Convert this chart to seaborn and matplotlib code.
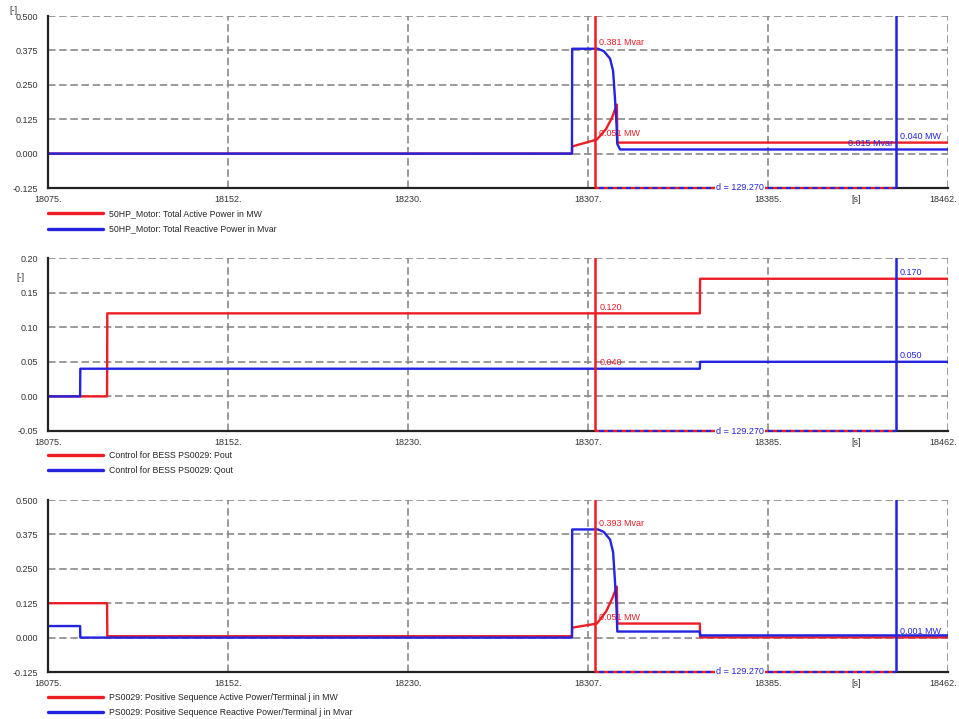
import numpy as np
import pandas as pd
import matplotlib
matplotlib.use('Agg')
import matplotlib.pyplot as plt
import matplotlib.transforms as mtransforms
import seaborn as sns
from matplotlib.lines import Line2D
from matplotlib.ticker import FixedLocator

# --- Configuration ---
RED = '#ee1c24'
BLUE = '#2323e0'
GRID = '#8a8a8a'
OUT_FILE = 'out.png'

X_MIN, X_MAX = 18075, 18462
X_TICKS = [18075, 18152.4, 18229.8, 18307.2, 18384.6, 18462]
X_TICK_LABELS = ['18075.', '18152.', '18230.', '18307.', '18385.', '18462.']
CURSOR_RED = 18310.3
CURSOR_BLUE = 18439.57
DELTA_LABEL = 'd = 129.270'

# --- Panel 1: 50HP motor ---
p1_active_t = [18075, 18300.3, 18300.4, 18311.0, 18315.0, 18317.5, 18319.6, 18319.8, 18462]
p1_active_v = [0.0, 0.0, 0.026, 0.051, 0.090, 0.130, 0.178, 0.040, 0.040]
p1_reactive_t = [18075, 18300.3, 18300.4, 18311.5, 18314.0, 18316.7, 18318.0, 18318.8, 18319.5, 18319.8, 18321.0, 18462]
p1_reactive_v = [0.0, 0.0, 0.381, 0.381, 0.372, 0.345, 0.300, 0.200, 0.100, 0.035, 0.015, 0.015]
p1_labels = ['50HP_Motor: Total Active Power in MW', '50HP_Motor: Total Reactive Power in Mvar']
p1_yticks = [0.500, 0.375, 0.250, 0.125, 0.000, -0.125]
p1_yticklabels = ['0.500', '0.375', '0.250', '0.125', '0.000', '-0.125']

# --- Panel 2: BESS control ---
p2_pout_t = [18075, 18100.4, 18100.5, 18355.3, 18355.4, 18462]
p2_pout_v = [0.0, 0.0, 0.120, 0.120, 0.170, 0.170]
p2_qout_t = [18075, 18088.8, 18088.9, 18355.3, 18355.4, 18462]
p2_qout_v = [0.0, 0.0, 0.040, 0.040, 0.050, 0.050]
p2_labels = ['Control for BESS PS0029: Pout', 'Control for BESS PS0029: Qout']
p2_yticks = [0.20, 0.15, 0.10, 0.05, 0.00, -0.05]
p2_yticklabels = ['0.20', '0.15', '0.10', '0.05', '0.00', '-0.05']

# --- Panel 3: PS0029 terminal ---
p3_active_t = [18075, 18100.4, 18100.5, 18300.3, 18300.4, 18311.0, 18315.0, 18317.5, 18319.6, 18319.8, 18355.3, 18355.4, 18462]
p3_active_v = [0.125, 0.125, 0.005, 0.005, 0.036, 0.051, 0.095, 0.140, 0.185, 0.051, 0.051, 0.001, 0.001]
p3_reactive_t = [18075, 18088.8, 18088.9, 18300.3, 18300.4, 18311.5, 18314.0, 18316.7, 18318.0, 18318.8, 18319.5, 18319.8, 18355.3, 18355.4, 18462]
p3_reactive_v = [0.042, 0.042, 0.0, 0.0, 0.393, 0.393, 0.384, 0.356, 0.310, 0.205, 0.100, 0.022, 0.022, 0.008, 0.008]
p3_labels = ['PS0029: Positive Sequence Active Power/Terminal j in MW',
             'PS0029: Positive Sequence Reactive Power/Terminal j in Mvar']
p3_yticks = p1_yticks
p3_yticklabels = p1_yticklabels

# cursor readouts: (text, value, cursor colour, side)
p1_readouts = [('0.381 Mvar', 0.381, 'red', 'right'), ('0.051 MW', 0.051, 'red', 'right'),
               ('0.015 Mvar', 0.015, 'blue', 'left'), ('0.040 MW', 0.040, 'blue', 'right')]
p2_readouts = [('0.120', 0.120, 'red', 'right'), ('0.040', 0.040, 'red', 'right'),
               ('0.170', 0.170, 'blue', 'right'), ('0.050', 0.050, 'blue', 'right')]
p3_readouts = [('0.393 Mvar', 0.393, 'red', 'right'), ('0.051 MW', 0.051, 'red', 'right'),
               ('0.001 MW', 0.001, 'blue', 'right')]

panels = [
    dict(t=(p1_active_t, p1_reactive_t), v=(p1_active_v, p1_reactive_v), labels=p1_labels,
         yticks=p1_yticks, yticklabels=p1_yticklabels, readouts=p1_readouts, unit=(-0.038, 1.03),
         rect=[48 / 959, 1 - 188 / 719, 900 / 959, 172 / 719], leg_y=-0.125),
    dict(t=(p2_pout_t, p2_qout_t), v=(p2_pout_v, p2_qout_v), labels=p2_labels,
         yticks=p2_yticks, yticklabels=p2_yticklabels, readouts=p2_readouts, unit=(-0.031, 0.89),
         rect=[48 / 959, 1 - 431 / 719, 900 / 959, 173 / 719], leg_y=-0.115),
    dict(t=(p3_active_t, p3_reactive_t), v=(p3_active_v, p3_reactive_v), labels=p3_labels,
         yticks=p3_yticks, yticklabels=p3_yticklabels, readouts=p3_readouts, unit=None,
         rect=[48 / 959, 1 - 672 / 719, 900 / 959, 172 / 719], leg_y=-0.12),
]

sns.set_style('white')
plt.rcParams['font.family'] = ['Liberation Sans', 'DejaVu Sans']

fig = plt.figure(figsize=(9.59, 7.19), dpi=100)

for p in panels:
    ax = fig.add_axes(p['rect'])
    frames = []
    for name, tt, vv in zip(p['labels'], p['t'], p['v']):
        frames.append(pd.DataFrame({'t': tt, 'v': vv, 'series': name}))
    df = pd.concat(frames, ignore_index=True)
    sns.lineplot(data=df, x='t', y='v', hue='series', hue_order=p['labels'],
                 palette=[RED, BLUE], estimator=None, sort=False, legend=False,
                 linewidth=1.7, ax=ax)

    ymin, ymax = p['yticks'][-1], p['yticks'][0]
    ax.set_xlim(X_MIN, X_MAX)
    ax.set_ylim(ymin, ymax)
    ax.set_xticks(X_TICKS, X_TICK_LABELS)
    ax.set_yticks(p['yticks'], p['yticklabels'])
    step_y = p['yticks'][0] - p['yticks'][1]
    ax.yaxis.set_minor_locator(FixedLocator([y - step_y / 2 for y in p['yticks'][:-1]]))
    ax.xaxis.set_minor_locator(FixedLocator([(a + b) / 2 for a, b in zip(X_TICKS[:-1], X_TICKS[1:])]))
    ax.set_xlabel('')
    ax.set_ylabel('')

    # grid & frame
    ax.grid(True, which='major', color=GRID, linestyle=(0, (4.5, 2.2)), linewidth=1.2)
    for s in ['top', 'right']:
        ax.spines[s].set_visible(False)
    for s in ['left', 'bottom']:
        ax.spines[s].set_color('#222222')
        ax.spines[s].set_linewidth(1.6)
    ax.tick_params(which='major', length=0, labelsize=6.5, labelcolor='#333333')
    ax.tick_params(axis='y', which='major', pad=7)
    ax.tick_params(axis='x', which='major', pad=5)
    ax.tick_params(which='minor', direction='in', length=3, width=1, color='#222222')
    # the last x label sits against the right edge of the figure
    last = ax.get_xticklabels()[-1]
    last.set_ha('right')
    last.set_transform(last.get_transform() + mtransforms.ScaledTranslation(9 / 100, 0, fig.dpi_scale_trans))

    # cursors
    ax.axvline(CURSOR_RED, color=RED, linewidth=1.8, zorder=4)
    ax.axvline(CURSOR_BLUE, color=BLUE, linewidth=1.8, zorder=4)
    ax.hlines(ymin, CURSOR_RED, CURSOR_BLUE, color=RED, linewidth=1.6,
              linestyle=(0, (2, 2)), zorder=5, clip_on=False)
    ax.hlines(ymin, CURSOR_RED, CURSOR_BLUE, color=BLUE, linewidth=1.6,
              linestyle=(2, (2, 2)), zorder=5, clip_on=False)
    ax.text(18372.5, ymin, DELTA_LABEL, color=BLUE, fontsize=6.5, ha='center', va='center',
            zorder=6, bbox=dict(facecolor='white', edgecolor='none', pad=0.6), clip_on=False)

    for txt, val, cur, side in p['readouts']:
        cx = CURSOR_RED if cur == 'red' else CURSOR_BLUE
        col = RED if cur == 'red' else BLUE
        dx = 3 if side == 'right' else -2
        ax.annotate(txt, xy=(cx, val), xytext=(dx, 1), textcoords='offset points',
                    ha='left' if side == 'right' else 'right', va='bottom',
                    color=col, fontsize=6.5, zorder=6)

    # units
    ax.annotate('[s]', xy=(18422.7, 0), xycoords=('data', 'axes fraction'),
                xytext=(0, -5), textcoords='offset points', ha='center', va='top',
                fontsize=6.5, color='#333333')
    if p['unit'] is not None:
        ax.text(p['unit'][0], p['unit'][1], '[-]', transform=ax.transAxes, ha='center',
                va='center', fontsize=6.5, color='#333333')

    handles = [Line2D([], [], color=RED, linewidth=2.4), Line2D([], [], color=BLUE, linewidth=2.4)]
    ax.legend(handles, p['labels'], loc='upper left', bbox_to_anchor=(0, p['leg_y']),
              frameon=False, fontsize=6.3, handlelength=6.3, handletextpad=0.7,
              labelspacing=0.7, borderaxespad=0, borderpad=0)

fig.savefig(OUT_FILE, dpi=100, facecolor='white')
